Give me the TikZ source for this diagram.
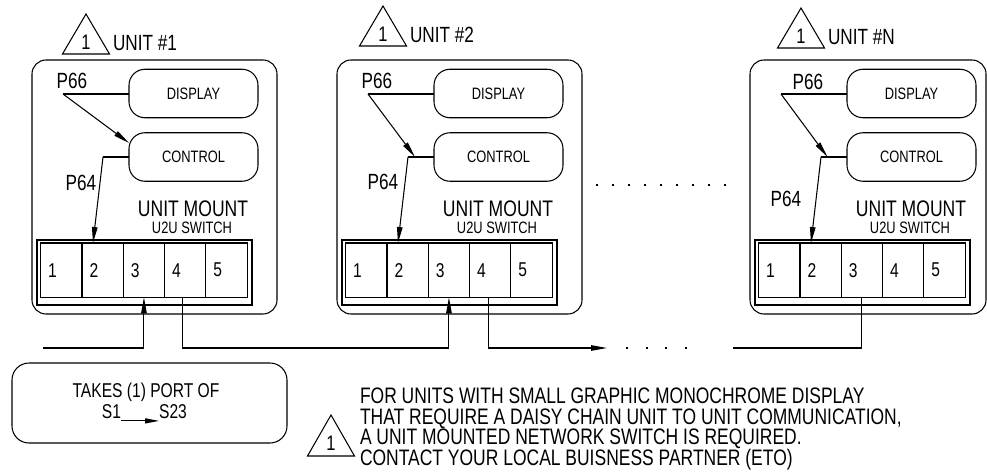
\documentclass[tikz,border=0pt]{standalone}
\usepackage{fontspec}
\setmainfont{Liberation Sans}[FakeStretch=0.78]
\usetikzlibrary{arrows.meta}
\newcommand{\fsz}[1]{\fontsize{#1}{#1}\selectfont}
\tikzset{
 every node/.style={inner sep=0pt, outer sep=0pt},
 ln/.style={line width=1.05pt},
 pill/.style={draw, line width=1.05pt, rounded corners=16pt, minimum width=129pt, minimum height=48.5pt, font=\fsz{16.5}},
 port/.style={draw, line width=1.05pt, minimum height=54.3pt, text width=26.3pt, inner xsep=7.5pt, align=left, font=\fsz{20}},
 arr/.style={line width=1.05pt, -{Triangle[length=16pt,width=5.5pt]}},
 big/.style={font=\fsz{22}},
}
\newcommand{\unitblock}[9]{%
\begin{scope}[xshift=#2pt]
 \draw[ln, rounded corners=14pt] (32,60) rectangle (#4,314);
 \node[pill] (disp#1) at (193.5,93.5) {DISPLAY};
 \node[pill] (ctrl#1) at (193.5,157) {CONTROL};
 \draw[ln] (#5,{#6-40}) -- ({#5-23.5},#6) -- ({#5+23.5},#6) -- cycle;
 \node[font=\fsz{21}] (tri#1) at (#5,{#6-12}) {1};
 \node[big, anchor=west] (lab#1) at ({#5+27},{#6-11}) {#3};
 \node[big] (pa#1lbl) at (#7) {P66};
 \node[big] (pb#1lbl) at (#8) {P64};
 \coordinate (pa#1) at (63,94);
 \coordinate (j#1) at (103,157);
 \coordinate (pt#1) at (#9);
 \node[font=\fsz{22.5}] (um#1) at (193,208.5) {UNIT MOUNT};
 \node[font=\fsz{16.5}] (sw#1) at (192,228) {U2U SWITCH};
 \draw[ln] (37,240) rectangle (252,305);
 \foreach \k in {1,...,5} \node[port] (s#1-\k) at ({61.35+(\k-1)*41.3},270.15) {\k};
 \draw[ln] (disp#1.west |- pa#1) -- (pa#1);
 \draw[arr] (pa#1) -- (pt#1);
 \draw[ln] (ctrl#1.west |- j#1) -- (j#1);
 \draw[arr] (j#1) -- ([xshift=-9.7pt]s#1-2.north);
\end{scope}}
\begin{document}
\begin{tikzpicture}[x=1pt,y=-1pt]
\useasboundingbox (0,0) rectangle (987,476);
\unitblock{1}{0}{UNIT \#1}{277}{86}{54}{72,81}{81,183}{129,143}
\unitblock{2}{305}{UNIT \#2}{277}{78}{46}{72,81}{78,182}{110,157}
\unitblock{N}{718}{UNIT \#N}{268}{83}{48}{90,82}{68,199}{109.5,157}
% bus wiring
\coordinate (bus) at (0,348);
\coordinate (in) at (43,348);
\draw[arr] (in) -| (s1-3.south);
\draw[arr] ([xshift=-2.3pt]s1-4.south) |- (bus -| s2-3.south) -- (s2-3.south);
\coordinate (tipA) at (607,348);
\draw[arr] ([xshift=-1.3pt]s2-4.south) |- (tipA);
\draw[ln, dash pattern=on 2pt off 17.7pt] (626,348) -- (688,348);
\coordinate (inR) at (733,348);
\draw[ln] (inR) -| (sN-3.south);
\draw[ln, dash pattern=on 2pt off 14pt] (596,185) -- (727,185);
% takes box
\node[draw, ln, rounded corners=17pt, minimum width=275pt, minimum height=80pt] (takes) at (149.5,403) {};
\node[font=\fsz{20}] (tk1) at (146,392) {TAKES (1) PORT OF};
\node[font=\fsz{20}] (sa) at (111.5,412) {S1};
\node[font=\fsz{20}] (sb) at (173,412) {S23};
\draw[line width=1.05pt, -{Triangle[length=14pt,width=5pt]}] ([yshift=-2pt]sa.base east) -- ([yshift=-2pt]sb.base west);
% note
\draw[ln] (331,415) -- (307.5,456) -- (354.5,456) -- cycle;
\node[font=\fsz{21}] (ntri) at (331,443) {1};
\node[font=\fsz{22.4}, anchor=base west] (n1) at (360,403.5) {FOR UNITS WITH SMALL GRAPHIC MONOCHROME DISPLAY};
\node[font=\fsz{22.4}, anchor=base west] (n2) at (360,424) {THAT REQUIRE A DAISY CHAIN UNIT TO UNIT COMMUNICATION,};
\node[font=\fsz{22.4}, anchor=base west] (n3) at (360,444.5) {A UNIT MOUNTED NETWORK SWITCH IS REQUIRED.};
\node[font=\fsz{22.4}, anchor=base west] (n4) at (360,465) {CONTACT YOUR LOCAL BUISNESS PARTNER (ETO)};
\end{tikzpicture}
\end{document}
